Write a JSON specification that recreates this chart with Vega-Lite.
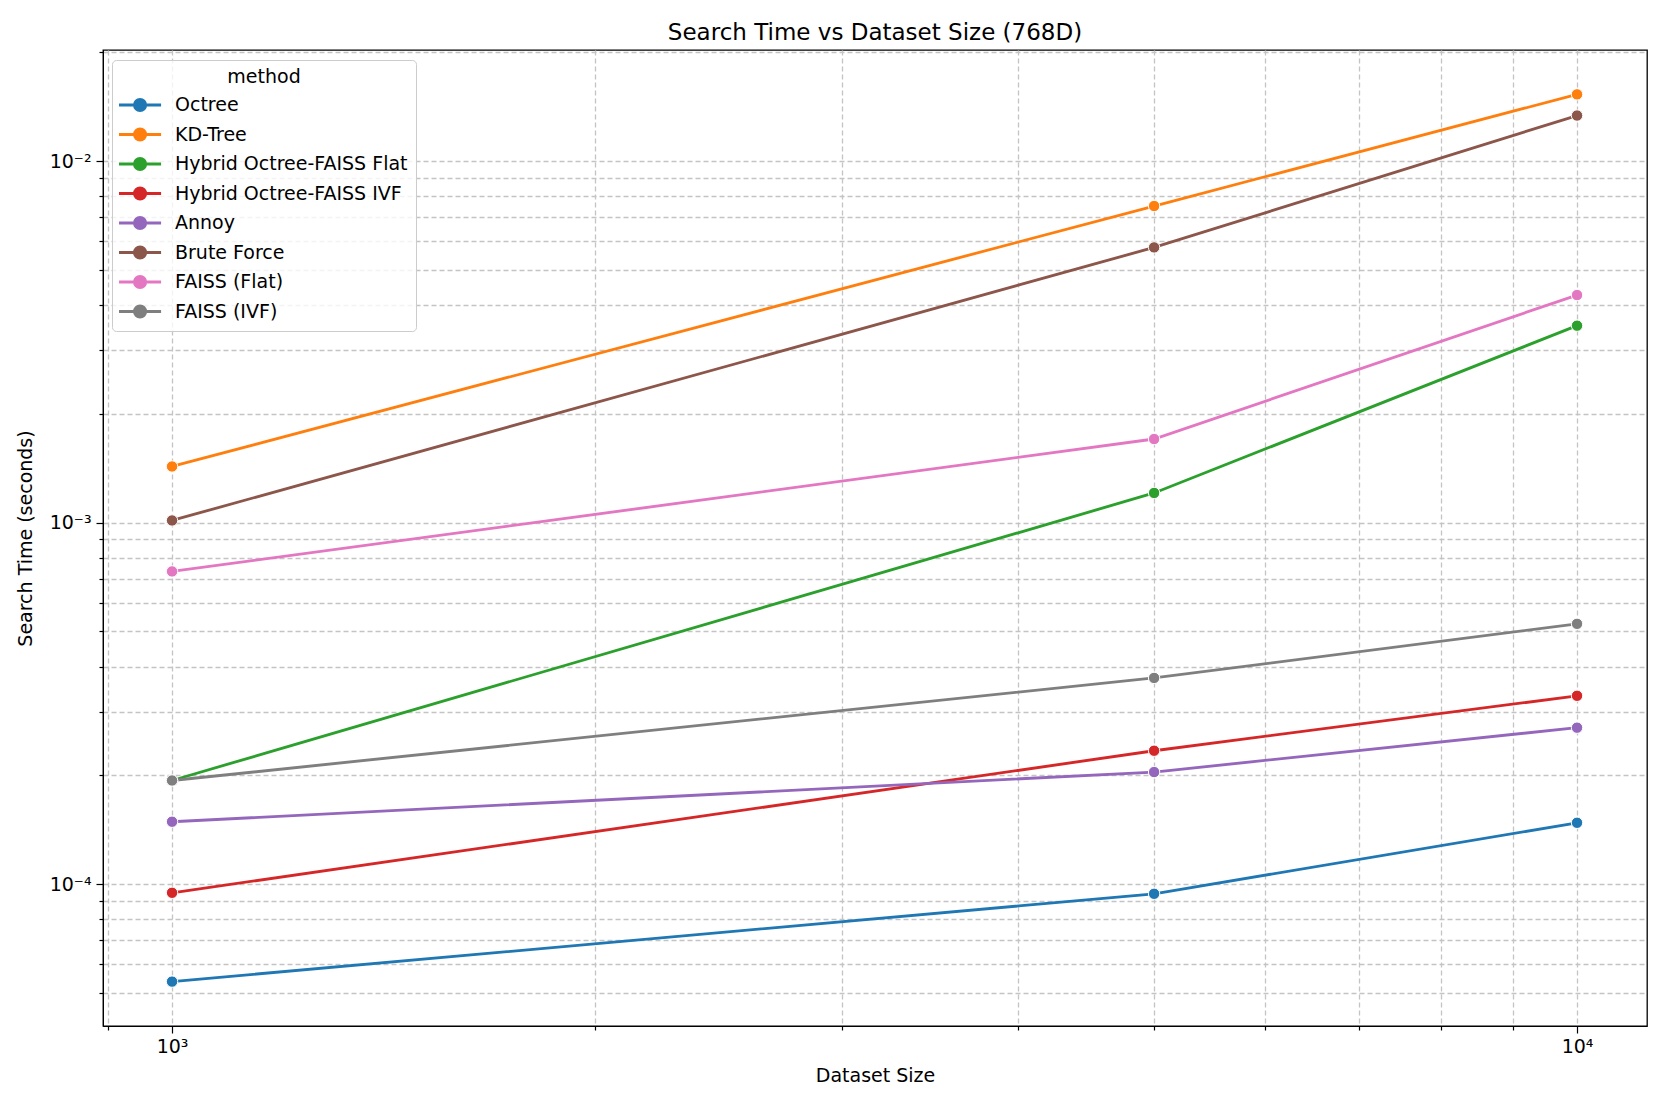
{
  "$schema": "https://vega.github.io/schema/vega-lite/v6.json",
  "width": 1544,
  "height": 976,
  "autosize": {"type": "none"},
  "padding": {"left": 103, "top": 50, "right": 13, "bottom": 72},
  "background": "white",
  "config": {
    "font": "DejaVu Sans",
    "view": {"stroke": "black", "strokeWidth": 1.3},
    "axis": {
      "labelFont": "DejaVu Sans",
      "titleFont": "DejaVu Sans",
      "labelFontSize": 19,
      "titleFontSize": 19,
      "titleFontWeight": "normal",
      "labelColor": "black",
      "titleColor": "black",
      "domainColor": "black",
      "tickColor": "black",
      "tickWidth": 1.2,
      "grid": true,
      "gridColor": "#c4c4c4",
      "gridDash": [5, 3],
      "gridWidth": 1.3
    }
  },
  "title": {
    "text": "Search Time vs Dataset Size (768D)",
    "fontSize": 23,
    "fontWeight": "normal",
    "font": "DejaVu Sans",
    "color": "black",
    "anchor": "middle",
    "offset": -2
  },
  "data": {
    "values": [
      {"size": 1000, "time": 0.0000538, "method": "Octree"},
      {"size": 5000, "time": 0.0000941, "method": "Octree"},
      {"size": 10000, "time": 0.0001479, "method": "Octree"},
      {"size": 1000, "time": 0.00143, "method": "KD-Tree"},
      {"size": 5000, "time": 0.00751, "method": "KD-Tree"},
      {"size": 10000, "time": 0.01529, "method": "KD-Tree"},
      {"size": 1000, "time": 0.0001936, "method": "Hybrid Octree-FAISS Flat"},
      {"size": 5000, "time": 0.001208, "method": "Hybrid Octree-FAISS Flat"},
      {"size": 10000, "time": 0.003505, "method": "Hybrid Octree-FAISS Flat"},
      {"size": 1000, "time": 0.0000947, "method": "Hybrid Octree-FAISS IVF"},
      {"size": 5000, "time": 0.000234, "method": "Hybrid Octree-FAISS IVF"},
      {"size": 10000, "time": 0.000332, "method": "Hybrid Octree-FAISS IVF"},
      {"size": 1000, "time": 0.0001489, "method": "Annoy"},
      {"size": 5000, "time": 0.0002043, "method": "Annoy"},
      {"size": 10000, "time": 0.000271, "method": "Annoy"},
      {"size": 1000, "time": 0.001014, "method": "Brute Force"},
      {"size": 5000, "time": 0.00577, "method": "Brute Force"},
      {"size": 10000, "time": 0.01336, "method": "Brute Force"},
      {"size": 1000, "time": 0.000733, "method": "FAISS (Flat)"},
      {"size": 5000, "time": 0.001703, "method": "FAISS (Flat)"},
      {"size": 10000, "time": 0.00426, "method": "FAISS (Flat)"},
      {"size": 1000, "time": 0.0001936, "method": "FAISS (IVF)"},
      {"size": 5000, "time": 0.000372, "method": "FAISS (IVF)"},
      {"size": 10000, "time": 0.000525, "method": "FAISS (IVF)"}
    ]
  },
  "encoding": {
    "x": {
      "field": "size",
      "type": "quantitative",
      "scale": {"type": "log", "domain": [893, 11215], "nice": false, "zero": false},
      "axis": {
        "title": "Dataset Size",
        "titlePadding": 10,
        "values": [900, 1000, 2000, 3000, 4000, 5000, 6000, 7000, 8000, 9000, 10000],
        "labelExpr": "datum.value == 1000 ? '10³' : (datum.value == 10000 ? '10⁴' : '')",
        "tickSize": {"condition": {"test": "datum.value == 1000 || datum.value == 10000", "value": 7}, "value": 4},
        "labelPadding": 4,
        "labelFlush": false,
        "labelOverlap": false
      }
    },
    "y": {
      "field": "time",
      "type": "quantitative",
      "scale": {"type": "log", "domain": [0.00004055, 0.02028], "nice": false, "zero": false},
      "axis": {
        "title": "Search Time (seconds)",
        "titleX": -78,
        "titleY": 488,
        "titleAngle": 270,
        "titleAlign": "center",
        "titleBaseline": "middle",
        "values": [0.00005, 0.00006, 0.00007, 0.00008, 0.00009, 0.0001, 0.0002, 0.0003, 0.0004, 0.0005, 0.0006, 0.0007, 0.0008, 0.0009, 0.001, 0.002, 0.003, 0.004, 0.005, 0.006, 0.007, 0.008, 0.009, 0.01, 0.02],
        "labelExpr": "datum.value == 0.01 ? '10⁻²' : (datum.value == 0.001 ? '10⁻³' : (datum.value == 0.0001 ? '10⁻⁴' : ''))",
        "tickSize": {"condition": {"test": "datum.value == 0.01 || datum.value == 0.001 || datum.value == 0.0001", "value": 7}, "value": 4},
        "labelPadding": 5,
        "labelFlush": false,
        "labelOverlap": false
      }
    },
    "color": {
      "field": "method",
      "type": "nominal",
      "sort": ["Octree", "KD-Tree", "Hybrid Octree-FAISS Flat", "Hybrid Octree-FAISS IVF", "Annoy", "Brute Force", "FAISS (Flat)", "FAISS (IVF)"],
      "scale": {
        "domain": ["Octree", "KD-Tree", "Hybrid Octree-FAISS Flat", "Hybrid Octree-FAISS IVF", "Annoy", "Brute Force", "FAISS (Flat)", "FAISS (IVF)"],
        "range": ["#1f77b4", "#ff7f0e", "#2ca02c", "#d62728", "#9467bd", "#8c564b", "#e377c2", "#7f7f7f"]
      },
      "legend": {
        "title": "method",
        "orient": "none",
        "legendX": 9,
        "legendY": 10,
        "titleAnchor": "middle",
        "titleFont": "DejaVu Sans",
        "titleFontSize": 19,
        "titleFontWeight": "normal",
        "titleColor": "black",
        "titlePadding": 2,
        "labelFont": "DejaVu Sans",
        "labelFontSize": 19,
        "labelColor": "black",
        "labelLimit": 0,
        "labelOffset": 23,
        "padding": 8,
        "rowPadding": 1.5,
        "fillColor": "rgba(255,255,255,0.8)",
        "strokeColor": "#cccccc",
        "cornerRadius": 4,
        "symbolType": "M-1.17,0H-0.11M0.67,0H1.73M-0.11,0A0.39,0.39,0,1,0,0.67,0A0.39,0.39,0,1,0,-0.11,0Z",
        "symbolSize": 841,
        "symbolStrokeWidth": 2.8,
        "symbolOpacity": 1,
        "encode": {
          "symbols": {"update": {"fill": {"scale": "color", "field": "value"}, "fillOpacity": {"value": 1}}}
        }
      }
    }
  },
  "layer": [
    {"mark": {"type": "line", "strokeWidth": 2.85}},
    {"mark": {"type": "point", "filled": true, "size": 130, "opacity": 1, "stroke": "white", "strokeWidth": 1}}
  ]
}
